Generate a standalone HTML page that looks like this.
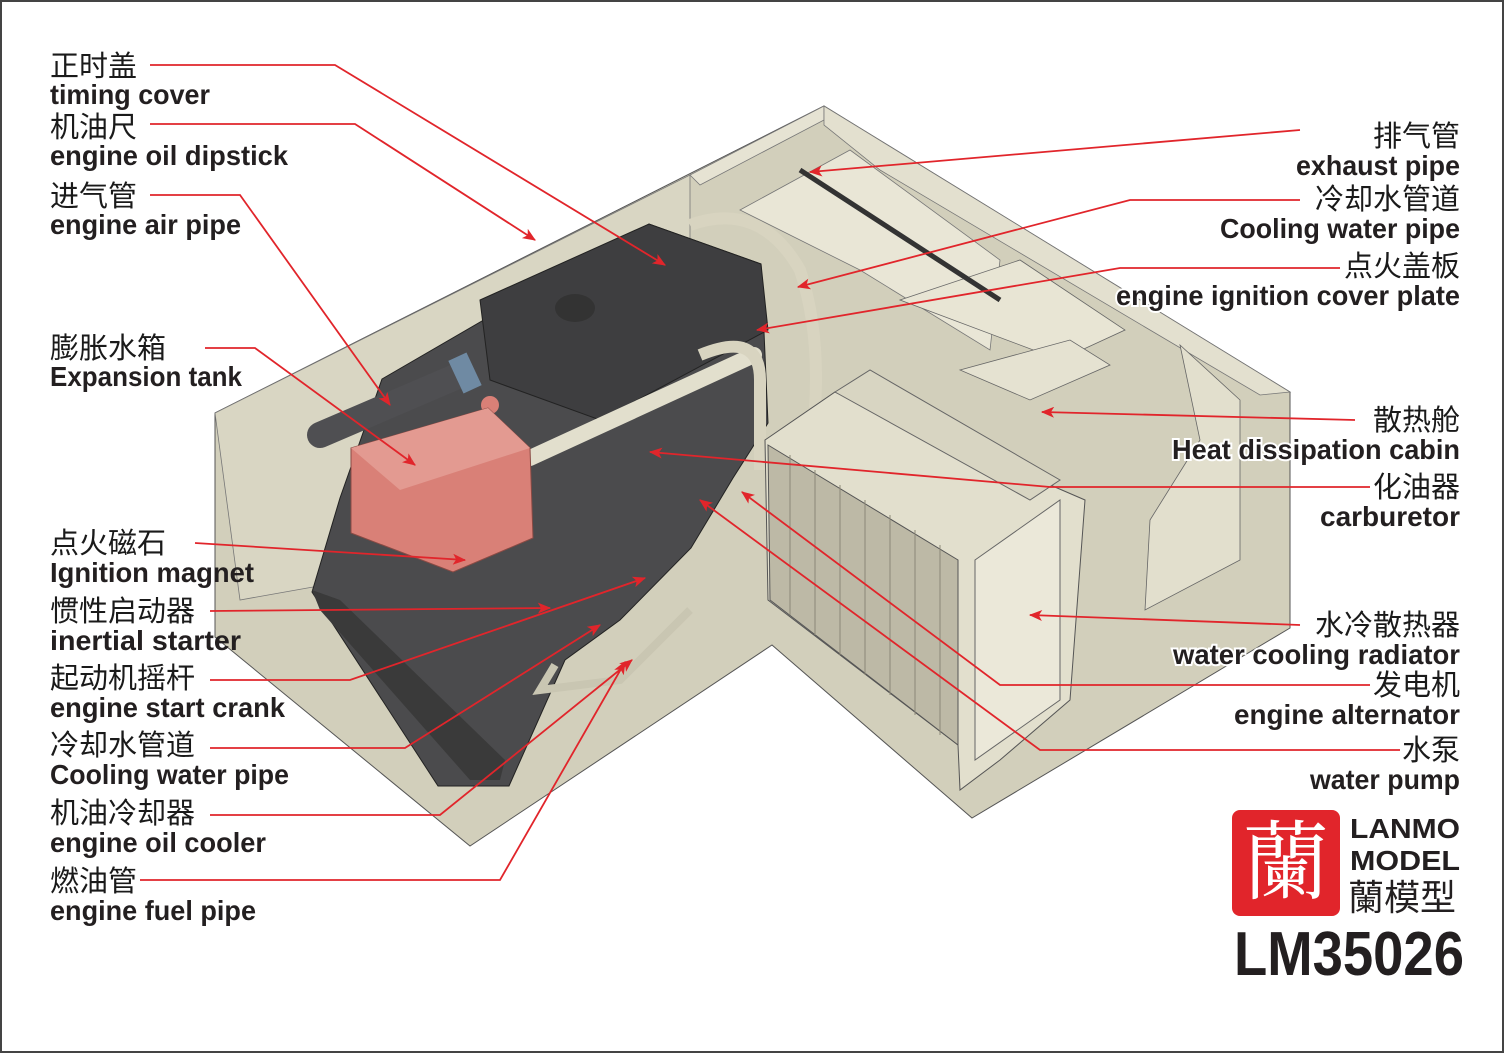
<!DOCTYPE html>
<html><head><meta charset="utf-8"><style>
html,body{margin:0;padding:0;background:#fff}
svg{display:block}
.cn{font-family:"Liberation Sans","Noto Sans CJK SC",sans-serif;font-size:29px;fill:#1a1a1a}
.en{font-family:"Liberation Sans",sans-serif;font-weight:bold;font-size:28px;fill:#231f20}
.r{text-anchor:end}
.ln{fill:none;stroke:#e1252b;stroke-width:1.8}
</style></head><body>
<svg width="1504" height="1053" viewBox="0 0 1504 1053" xmlns="http://www.w3.org/2000/svg">
<defs><marker id="a" viewBox="0 0 12 10" refX="11" refY="5" markerWidth="14" markerHeight="11" markerUnits="userSpaceOnUse" orient="auto"><path d="M0,0 L12,5 L0,10 L3,5z" fill="#e1252b"/></marker></defs>
<rect x="1" y="1" width="1502" height="1051" fill="#fff" stroke="#444" stroke-width="2"/>
<!-- box -->
<polygon points="215,413 824,106 1290,392 1290,628 972,818 772,645 470,846 215,637" fill="#d2cfbb" stroke="#555" stroke-width="1"/>
<polygon points="215,413 690,175 690,520 240,600" fill="#d9d6c3" stroke="#777" stroke-width="0.8"/>
<polygon points="690,175 824,106 824,120 700,185" fill="#e6e3d3" stroke="#777" stroke-width="0.8"/>
<polygon points="824,106 1290,392 1260,395 1150,330 880,170 824,125" fill="#e3e0cf" stroke="#777" stroke-width="0.8"/>
<polygon points="740,210 850,150 1000,260 990,350 860,270" fill="#e9e6d6" stroke="#777" stroke-width="0.8"/>
<polygon points="900,300 1020,260 1125,330 1060,360" fill="#e8e5d4" stroke="#666" stroke-width="0.8"/>
<polygon points="960,370 1070,340 1110,365 1030,400" fill="#e5e2d1" stroke="#666" stroke-width="0.8"/>
<polygon points="1180,345 1240,400 1240,560 1145,610 1150,520 1200,440" fill="#e2dfcd" stroke="#666" stroke-width="0.8"/>
<line x1="800" y1="170" x2="1000" y2="300" stroke="#333" stroke-width="5"/>
<!-- engine -->
<polygon points="382,379 649,224 761,264 768,423 733,478 691,548 620,620 565,660 509,786 438,786 312,592 340,498" fill="#4b4b4d" stroke="#222" stroke-width="1"/>
<polygon points="480,300 649,224 761,264 768,330 600,420 490,380" fill="#3e3e40" stroke="#222"/>
<ellipse cx="575" cy="308" rx="20" ry="14" fill="#333"/>
<polygon points="312,590 340,600 505,760 500,780 470,780 320,610" fill="#3a3a3a"/>
<line x1="320" y1="435" x2="460" y2="375" stroke="#4f4f52" stroke-width="26" stroke-linecap="round"/>
<line x1="530" y1="458" x2="754" y2="355" stroke="#e2dfcd" stroke-width="16" stroke-linecap="round"/>
<path d="M690,225 Q760,200 800,270 Q820,330 815,408" fill="none" stroke="#d8d4c0" stroke-width="12"/>
<path d="M700,355 Q760,330 760,380 L760,470" fill="none" stroke="#d8d4c0" stroke-width="12"/>
<path d="M555,665 L540,690 L620,680 L690,610" fill="none" stroke="#c9c6b2" stroke-width="8"/>
<rect x="455" y="355" width="20" height="36" fill="#6f8aa3" transform="rotate(-25 465 373)"/>
<circle cx="490" cy="405" r="9" fill="#d98077"/>
<polygon points="351,448 488,408 530,448 533,538 453,572 351,533" fill="#d98077" stroke="#8a4a44" stroke-width="1"/>
<polygon points="351,448 488,408 530,448 400,490" fill="#e39a91"/>
<!-- radiator -->
<polygon points="765,440 835,392 1085,500 1070,700 1000,760 960,790 958,745 768,600" fill="#e2dfcd" stroke="#555" stroke-width="1"/>
<polygon points="835,392 870,370 1060,480 1030,500" fill="#d8d5c2" stroke="#666"/>
<polygon points="768,445 958,560 958,745 770,600" fill="#bdb9a6" stroke="#555"/>
<g stroke="#8c8878" stroke-width="1">
<line x1="790" y1="455" x2="790" y2="615"/><line x1="815" y1="470" x2="815" y2="635"/><line x1="840" y1="485" x2="840" y2="655"/><line x1="865" y1="500" x2="865" y2="675"/><line x1="890" y1="515" x2="890" y2="695"/><line x1="915" y1="530" x2="915" y2="715"/><line x1="940" y1="545" x2="940" y2="735"/>
</g>
<polygon points="975,560 1060,500 1060,700 975,760" fill="#ebe8d9" stroke="#666"/>
<!-- lines -->
<g class="ln">
<polyline points="150,65 335,65 665,265" marker-end="url(#a)"/>
<polyline points="150,124 355,124 535,240" marker-end="url(#a)"/>
<polyline points="150,195 240,195 390,405" marker-end="url(#a)"/>
<polyline points="205,348 255,348 415,465" marker-end="url(#a)"/>
<polyline points="195,543 465,560" marker-end="url(#a)"/>
<polyline points="210,611 550,608" marker-end="url(#a)"/>
<polyline points="210,680 350,680 645,578" marker-end="url(#a)"/>
<polyline points="210,748 405,748 600,625" marker-end="url(#a)"/>
<polyline points="210,815 440,815 632,660" marker-end="url(#a)"/>
<polyline points="140,880 500,880 625,662" marker-end="url(#a)"/>
<polyline points="1300,130 810,172" marker-end="url(#a)"/>
<polyline points="1300,200 1130,200 798,287" marker-end="url(#a)"/>
<polyline points="1340,268 1120,268 757,330" marker-end="url(#a)"/>
<polyline points="1355,420 1042,412" marker-end="url(#a)"/>
<polyline points="1370,487 1050,487 650,452" marker-end="url(#a)"/>
<polyline points="1300,625 1030,615" marker-end="url(#a)"/>
<polyline points="1370,685 1000,685 742,492" marker-end="url(#a)"/>
<polyline points="1400,750 1040,750 700,500" marker-end="url(#a)"/>
</g>
<!-- left labels -->
<g>
<text class="cn" x="50" y="76">正时盖</text><text class="en" x="50" y="104" textLength="160" lengthAdjust="spacingAndGlyphs">timing cover</text>
<text class="cn" x="50" y="137">机油尺</text><text class="en" x="50" y="165" textLength="238" lengthAdjust="spacingAndGlyphs">engine oil dipstick</text>
<text class="cn" x="50" y="206">进气管</text><text class="en" x="50" y="234" textLength="191" lengthAdjust="spacingAndGlyphs">engine air pipe</text>
<text class="cn" x="50" y="358">膨胀水箱</text><text class="en" x="50" y="386" textLength="192" lengthAdjust="spacingAndGlyphs">Expansion tank</text>
<text class="cn" x="50" y="553">点火磁石</text><text class="en" x="50" y="582" textLength="204" lengthAdjust="spacingAndGlyphs">Ignition magnet</text>
<text class="cn" x="50" y="621">惯性启动器</text><text class="en" x="50" y="650" textLength="191" lengthAdjust="spacingAndGlyphs">inertial starter</text>
<text class="cn" x="50" y="688">起动机摇杆</text><text class="en" x="50" y="717" textLength="235" lengthAdjust="spacingAndGlyphs">engine start crank</text>
<text class="cn" x="50" y="755">冷却水管道</text><text class="en" x="50" y="784" textLength="239" lengthAdjust="spacingAndGlyphs">Cooling water pipe</text>
<text class="cn" x="50" y="823">机油冷却器</text><text class="en" x="50" y="852" textLength="216" lengthAdjust="spacingAndGlyphs">engine oil cooler</text>
<text class="cn" x="50" y="891">燃油管</text><text class="en" x="50" y="920" textLength="206" lengthAdjust="spacingAndGlyphs">engine fuel pipe</text>
</g>
<!-- right labels -->
<g stroke="#fff" stroke-width="4" paint-order="stroke">
<text class="cn r" x="1460" y="146">排气管</text><text class="en" x="1296" y="175" textLength="164" lengthAdjust="spacingAndGlyphs">exhaust pipe</text>
<text class="cn r" x="1460" y="209">冷却水管道</text><text class="en" x="1220" y="238" textLength="240" lengthAdjust="spacingAndGlyphs">Cooling water pipe</text>
<text class="cn r" x="1460" y="276">点火盖板</text><text class="en" x="1116" y="305" textLength="344" lengthAdjust="spacingAndGlyphs">engine ignition cover plate</text>
<text class="cn r" x="1460" y="430">散热舱</text><text class="en" x="1172" y="459" textLength="288" lengthAdjust="spacingAndGlyphs">Heat dissipation cabin</text>
<text class="cn r" x="1460" y="497">化油器</text><text class="en" x="1320" y="526" textLength="140" lengthAdjust="spacingAndGlyphs">carburetor</text>
<text class="cn r" x="1460" y="635">水冷散热器</text><text class="en" x="1173" y="664" textLength="287" lengthAdjust="spacingAndGlyphs">water cooling radiator</text>
<text class="cn r" x="1460" y="695">发电机</text><text class="en" x="1234" y="724" textLength="226" lengthAdjust="spacingAndGlyphs">engine alternator</text>
<text class="cn r" x="1460" y="760">水泵</text><text class="en" x="1310" y="789" textLength="150" lengthAdjust="spacingAndGlyphs">water pump</text>
</g>
<!-- logo -->
<rect x="1232" y="810" width="108" height="106" rx="8" fill="#e1252b"/>
<text x="1286" y="892" text-anchor="middle" font-family="Noto Serif CJK SC,serif" font-size="86" fill="#fff">蘭</text>
<text x="1350" y="838" font-family="Liberation Sans,sans-serif" font-weight="bold" font-size="28" fill="#231f20" textLength="110" lengthAdjust="spacingAndGlyphs">LANMO</text>
<text x="1350" y="870" font-family="Liberation Sans,sans-serif" font-weight="bold" font-size="28" fill="#231f20" textLength="110" lengthAdjust="spacingAndGlyphs">MODEL</text>
<text x="1348" y="910" font-family="Liberation Sans,Noto Sans CJK TC,sans-serif" font-size="36" fill="#231f20">蘭模型</text>
<text x="1234" y="975" font-family="Liberation Sans,sans-serif" font-weight="bold" font-size="62" fill="#231f20" textLength="230" lengthAdjust="spacingAndGlyphs">LM35026</text>
</svg>
</body></html>
